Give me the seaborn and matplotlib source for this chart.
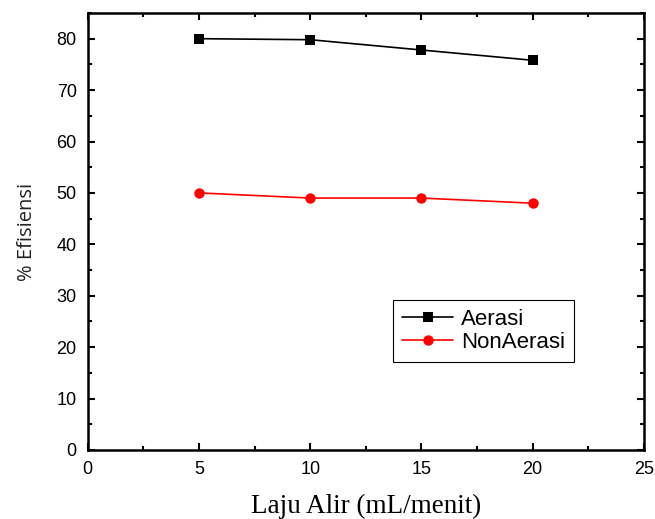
import pandas as pd
import matplotlib
matplotlib.use('Agg')
import matplotlib.pyplot as plt
import seaborn as sns
from matplotlib.ticker import MultipleLocator

# data
laju_alir = [5, 10, 15, 20]
aerasi = [80.0, 79.8, 77.8, 75.8]
non_aerasi = [50.0, 49.0, 49.0, 48.0]
series_names = ['Aerasi', 'NonAerasi']

df = pd.DataFrame({
    'Laju': laju_alir * 2,
    'Efisiensi': aerasi + non_aerasi,
    'Seri': [series_names[0]] * 4 + [series_names[1]] * 4,
})

sns.set_style('ticks')
plt.rcParams['font.family'] = ['Liberation Sans', 'DejaVu Sans']
plt.rcParams['text.color'] = 'black'
plt.rcParams['axes.labelcolor'] = 'black'

fig = plt.figure(figsize=(6.55, 5.19), dpi=100)
ax = fig.add_axes([0.134, 0.133, 0.849, 0.842])

sns.lineplot(data=df, x='Laju', y='Efisiensi', hue='Seri', style='Seri',
             markers={'Aerasi': 's', 'NonAerasi': 'o'}, dashes=False,
             palette={'Aerasi': 'black', 'NonAerasi': 'red'},
             markersize=7.5, linewidth=1.2, markeredgewidth=0, ax=ax)

ax.set_xlim(0, 25)
ax.set_ylim(0, 85)
ax.xaxis.set_major_locator(MultipleLocator(5))
ax.xaxis.set_minor_locator(MultipleLocator(2.5))
ax.yaxis.set_major_locator(MultipleLocator(10))
ax.yaxis.set_minor_locator(MultipleLocator(5))
ax.tick_params(which='both', direction='in', top=True, right=True, width=1.5,
               labelsize=13, colors='black', pad=8)
ax.tick_params(which='major', length=5)
ax.tick_params(which='minor', length=3)
for sp in ax.spines.values():
    sp.set_linewidth(1.8)
    sp.set_color('black')

ax.set_xlabel('Laju Alir (mL/menit)', family='Liberation Serif', fontsize=19.5, labelpad=11)
ax.set_ylabel('% Efisiensi', family=['Open Sans', 'DejaVu Sans'],
              fontsize=14.5, labelpad=14, color='#222222')

leg = ax.legend(title=None, loc='lower left', bbox_to_anchor=(0.549, 0.201), fontsize=16,
                frameon=True, fancybox=False, framealpha=1, edgecolor='black',
                borderaxespad=0, handlelength=2.3, borderpad=0.4, labelspacing=0.1,
                handletextpad=0.35)
leg.get_frame().set_linewidth(0.8)

fig.savefig('out.png', dpi=100)
